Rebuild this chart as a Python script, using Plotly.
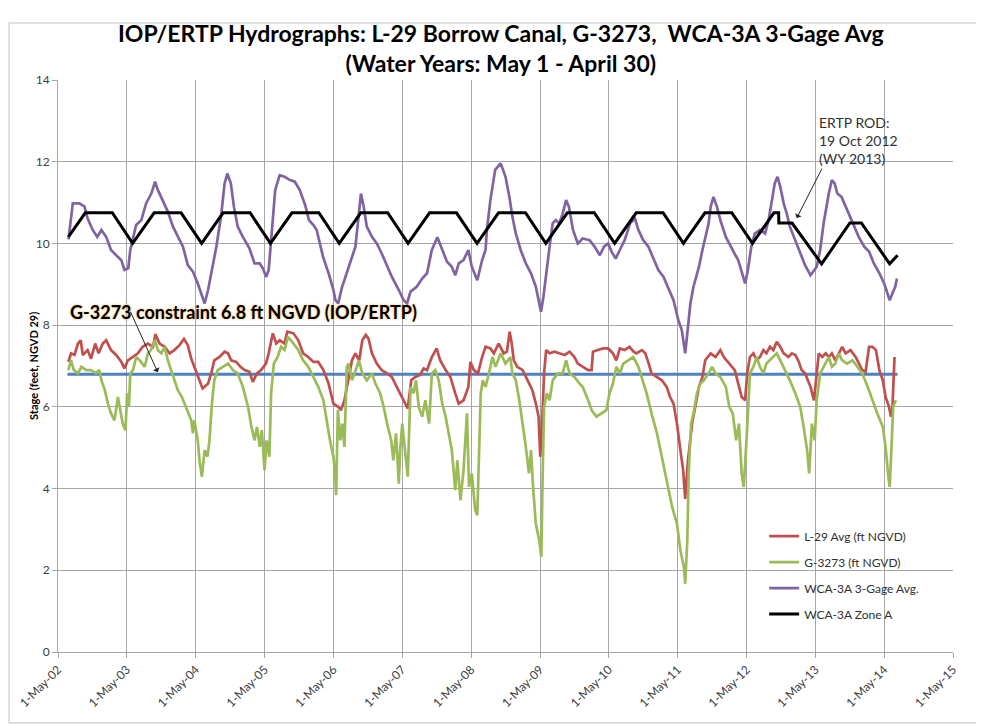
import numpy as np
import pandas as pd
import plotly.graph_objects as go

# ---------------- data ----------------
# x positions are stored as "years since 1-May-2002" (water-year offset)
BASE_DATE = "2002-05-01"

wca_t = [0.152, 0.215, 0.31, 0.385, 0.43, 0.505, 0.57, 0.63, 0.70, 0.77, 0.845, 0.92, 0.965, 1.02, 1.05,
         1.135, 1.21, 1.28, 1.355, 1.41, 1.45, 1.52, 1.595, 1.67, 1.74, 1.815, 1.885, 1.96, 2.03, 2.09,
         2.13, 2.18, 2.235, 2.30, 2.37, 2.42, 2.46, 2.51, 2.555, 2.61, 2.685, 2.78, 2.855, 2.93, 2.975,
         3.025, 3.06, 3.095, 3.155, 3.22, 3.29, 3.37, 3.44, 3.51, 3.59, 3.645, 3.71, 3.757, 3.78, 3.85,
         3.93, 4.0, 4.03, 4.07, 4.12, 4.19, 4.27, 4.32, 4.355, 4.40, 4.44, 4.485, 4.56, 4.63, 4.70,
         4.78, 4.85, 4.95, 5.02, 5.07, 5.12, 5.21, 5.29, 5.36, 5.43, 5.51, 5.58, 5.65, 5.72, 5.77,
         5.82, 5.89, 5.96, 6.01, 6.09, 6.16, 6.21, 6.23, 6.28, 6.35, 6.43, 6.50, 6.56, 6.60, 6.65,
         6.72, 6.795, 6.87, 6.94, 6.98, 7.015, 7.05, 7.09, 7.14, 7.185, 7.23, 7.28, 7.33, 7.38, 7.42,
         7.48, 7.55, 7.62, 7.72, 7.795, 7.87, 7.93, 7.99, 8.04, 8.10, 8.16, 8.23, 8.31, 8.38, 8.43,
         8.50, 8.575, 8.65, 8.72, 8.795, 8.87, 8.94, 9.01, 9.06, 9.11, 9.145, 9.185, 9.23, 9.31, 9.36,
         9.405, 9.45, 9.48, 9.52, 9.57, 9.62, 9.70, 9.77, 9.84, 9.88, 9.93, 9.98, 10.02, 10.07, 10.12,
         10.195, 10.27, 10.32, 10.37, 10.41, 10.45, 10.49, 10.54, 10.585, 10.63, 10.71, 10.78, 10.85,
         10.93, 10.98, 11.02, 11.07, 11.12, 11.195, 11.24, 11.28, 11.32, 11.38, 11.44, 11.49, 11.56,
         11.63, 11.71, 11.78, 11.85, 11.93, 12.0, 12.05, 12.08, 12.12, 12.16, 12.185]
wca_v = [10.10, 10.98, 10.98, 10.90, 10.61, 10.33, 10.16, 10.33, 10.16, 9.84, 9.71, 9.59, 9.35, 9.39, 9.84,
         10.45, 10.57, 10.98, 11.22, 11.51, 11.31, 11.06, 10.78, 10.41, 10.16, 9.92, 9.47, 9.31, 9.02, 8.69,
         8.53, 8.86, 9.35, 9.92, 10.69, 11.47, 11.71, 11.47, 10.90, 10.41, 10.16, 9.88, 9.51, 9.51, 9.39,
         9.18, 9.35, 10.08, 11.31, 11.67, 11.63, 11.55, 11.51, 11.31, 10.94, 10.57, 10.45, 10.33, 10.16, 9.67,
         9.27, 8.86, 8.61, 8.53, 8.90, 9.27, 9.67, 9.92, 10.49, 11.22, 10.90, 10.41, 10.16, 10.0, 9.76,
         9.43, 9.18, 8.86, 8.61, 8.53, 8.82, 8.94, 9.14, 9.27, 9.84, 10.15, 9.84, 9.55, 9.43, 9.22,
         9.51, 9.59, 9.84, 9.43, 9.10, 9.59, 9.84, 10.33, 11.06, 11.80, 11.96, 11.63, 11.10, 10.65, 10.24,
         9.84, 9.51, 9.27, 8.94, 8.61, 8.33, 8.69, 9.27, 9.92, 10.49, 10.57, 10.49, 10.73, 11.06, 10.90,
         10.33, 10.0, 10.12, 10.08, 9.92, 9.71, 9.92, 10.0, 9.80, 9.63, 9.84, 10.08, 10.49, 10.61, 10.33,
         10.08, 9.92, 9.63, 9.35, 9.18, 8.90, 8.61, 8.12, 7.88, 7.31, 7.96, 8.53, 8.94, 9.43, 9.84,
         10.16, 10.49, 10.90, 11.14, 10.90, 10.57, 10.16, 9.92, 9.71, 9.59, 9.27, 9.02, 9.35, 9.92, 10.24,
         10.33, 10.24, 10.57, 11.06, 11.47, 11.63, 11.39, 10.98, 10.73, 10.41, 10.08, 9.76, 9.47,
         9.22, 9.35, 9.43, 9.84, 10.49, 11.22, 11.55, 11.47, 11.22, 11.14, 10.90, 10.73, 10.41,
         10.16, 9.92, 9.80, 9.51, 9.27, 9.02, 8.78, 8.61, 8.78, 8.94, 9.14]

l29_t = [0.15, 0.19, 0.24, 0.29, 0.33, 0.36, 0.43, 0.48, 0.54, 0.59, 0.65, 0.70, 0.77, 0.845, 0.92,
         0.965, 1.015, 1.09, 1.16, 1.23, 1.305, 1.38, 1.415, 1.475, 1.55, 1.62, 1.69, 1.765, 1.83, 1.885,
         1.935, 1.98, 2.06, 2.10, 2.18, 2.225, 2.27, 2.345, 2.42, 2.47, 2.515, 2.59, 2.65, 2.71, 2.78,
         2.83, 2.89, 2.95, 3.02, 3.06, 3.12, 3.17, 3.22, 3.29, 3.33, 3.42, 3.49, 3.56, 3.635, 3.71,
         3.78, 3.855, 3.93, 4.0, 4.07, 4.11, 4.16, 4.22, 4.27, 4.32, 4.375, 4.42, 4.47, 4.51, 4.56,
         4.63, 4.70, 4.78, 4.85, 4.92, 4.97, 5.04, 5.08, 5.13, 5.19, 5.26, 5.31, 5.36, 5.43, 5.50,
         5.55, 5.63, 5.70, 5.77, 5.82, 5.89, 5.96, 5.99, 6.04, 6.10, 6.16, 6.21, 6.28, 6.33, 6.40,
         6.475, 6.52, 6.56, 6.59, 6.62, 6.67, 6.75, 6.82, 6.89, 6.94, 6.98, 7.005, 7.03, 7.06, 7.09,
         7.14, 7.21, 7.28, 7.36, 7.43, 7.50, 7.55, 7.62, 7.70, 7.75, 7.77, 7.84, 7.92, 7.99, 8.06,
         8.11, 8.16, 8.23, 8.30, 8.36, 8.40, 8.48, 8.53, 8.58, 8.62, 8.70, 8.77, 8.84, 8.89, 8.94,
         8.99, 9.04, 9.08, 9.11, 9.15, 9.21, 9.26, 9.31, 9.36, 9.40, 9.48, 9.55, 9.62, 9.67, 9.75,
         9.83, 9.88, 9.93, 9.98, 10.01, 10.05, 10.10, 10.15, 10.195, 10.245, 10.29, 10.34, 10.39, 10.44,
         10.49, 10.54, 10.61, 10.66, 10.71, 10.76, 10.80, 10.85, 10.93, 10.98, 11.02, 11.05, 11.10,
         11.15, 11.195, 11.24, 11.29, 11.34, 11.39, 11.44, 11.51, 11.585, 11.63, 11.68, 11.73, 11.78,
         11.83, 11.88, 11.93, 11.98, 12.02, 12.07, 12.10, 12.12, 12.15]
l29_v = [7.10, 7.31, 7.27, 7.55, 7.63, 7.27, 7.39, 7.18, 7.55, 7.31, 7.55, 7.63, 7.39, 7.27, 7.10,
         6.94, 7.14, 7.22, 7.31, 7.47, 7.55, 7.47, 7.78, 7.55, 7.47, 7.31, 7.39, 7.51, 7.66, 7.51,
         7.18, 6.98, 6.65, 6.45, 6.57, 6.82, 7.14, 7.22, 7.35, 7.31, 7.14, 7.10, 6.98, 6.90, 6.86,
         6.61, 6.82, 6.90, 7.06, 7.31, 7.80, 7.55, 7.63, 7.55, 7.84, 7.80, 7.63, 7.31, 7.22, 7.10,
         7.10, 6.90, 6.57, 6.08, 6.00, 5.92, 6.16, 6.65, 7.14, 7.31, 7.14, 7.63, 7.76, 7.67, 7.31,
         7.06, 6.90, 6.82, 6.73, 6.49, 6.33, 6.08, 5.96, 6.65, 6.73, 6.78, 6.94, 6.90, 7.22, 7.43,
         7.14, 6.90, 6.73, 6.33, 6.08, 6.16, 6.49, 7.10, 6.90, 6.82, 7.22, 7.47, 7.43, 7.31, 7.55,
         7.31, 7.35, 7.84, 7.55, 7.14, 6.98, 6.90, 6.65, 6.41, 6.08, 5.76, 4.78, 5.51, 6.82, 7.39,
         7.31, 7.35, 7.31, 7.27, 7.35, 7.22, 7.06, 6.98, 6.90, 6.90, 7.35, 7.39, 7.43, 7.43, 7.31,
         7.14, 7.43, 7.39, 7.47, 7.35, 7.31, 7.39, 7.31, 7.06, 6.82, 6.73, 6.65, 6.49, 6.24, 6.08,
         5.59, 4.94, 4.45, 3.75, 4.69, 5.59, 6.08, 6.49, 6.73, 7.14, 7.31, 7.22, 7.39, 7.22, 7.06,
         6.90, 6.57, 6.24, 6.16, 6.82, 7.22, 7.31, 7.14, 7.22, 7.39, 7.31, 7.47, 7.39, 7.59,
         7.47, 7.31, 7.22, 7.31, 7.27, 7.10, 6.90, 6.82, 6.49, 6.16, 6.90, 7.31, 7.22,
         7.31, 7.22, 7.31, 7.14, 7.31, 7.47, 7.31, 7.39, 7.22, 7.06, 6.90, 6.86, 7.47,
         7.47, 7.39, 6.90, 6.65, 6.24, 6.00, 5.76, 6.00, 7.22]

g3273_t = [0.15, 0.19, 0.23, 0.29, 0.34, 0.41, 0.48, 0.55, 0.60, 0.63, 0.68, 0.725, 0.77, 0.82, 0.87,
           0.91, 0.94, 0.98, 1.005, 1.03, 1.05, 1.09, 1.135, 1.185, 1.26, 1.305, 1.35, 1.41, 1.45, 1.50,
           1.55, 1.595, 1.645, 1.69, 1.74, 1.80, 1.86, 1.935, 1.96, 1.98, 2.03, 2.055, 2.09, 2.13, 2.17,
           2.20, 2.235, 2.27, 2.32, 2.395, 2.47, 2.54, 2.61, 2.685, 2.76, 2.81, 2.855, 2.89, 2.93, 2.96,
           3.0, 3.03, 3.07, 3.095, 3.135, 3.19, 3.24, 3.29, 3.34, 3.42, 3.49, 3.56, 3.635, 3.71, 3.78,
           3.855, 3.90, 3.95, 4.0, 4.025, 4.04, 4.065, 4.10, 4.13, 4.16, 4.195, 4.22, 4.27, 4.325, 4.37,
           4.42, 4.485, 4.56, 4.61, 4.68, 4.73, 4.78, 4.84, 4.87, 4.91, 4.95, 4.97, 5.0, 5.04, 5.08,
           5.12, 5.165, 5.20, 5.24, 5.29, 5.335, 5.39, 5.43, 5.48, 5.53, 5.58, 5.63, 5.675, 5.72, 5.77,
           5.80, 5.845, 5.89, 5.94, 5.97, 6.01, 6.06, 6.09, 6.11, 6.14, 6.17, 6.21, 6.26, 6.31, 6.355,
           6.43, 6.50, 6.57, 6.60, 6.65, 6.70, 6.75, 6.795, 6.84, 6.87, 6.90, 6.94, 6.99, 7.02, 7.04,
           7.06, 7.10, 7.14, 7.185, 7.26, 7.33, 7.38, 7.43, 7.50, 7.575, 7.62, 7.70, 7.75, 7.82, 7.89,
           7.965, 8.01, 8.06, 8.11, 8.16, 8.21, 8.28, 8.355, 8.43, 8.48, 8.55, 8.62, 8.70, 8.77, 8.84,
           8.92, 8.99, 9.04, 9.09, 9.11, 9.14, 9.16, 9.195, 9.23, 9.28, 9.33, 9.38, 9.45, 9.50, 9.55,
           9.62, 9.70, 9.75, 9.80, 9.85, 9.89, 9.93, 9.96, 10.0, 10.02, 10.05, 10.10, 10.15, 10.195,
           10.245, 10.29, 10.34, 10.39, 10.44, 10.49, 10.56, 10.63, 10.71, 10.78, 10.83, 10.88, 10.91,
           10.95, 10.99, 11.02, 11.07, 11.12, 11.195, 11.24, 11.29, 11.34, 11.39, 11.46, 11.54, 11.61,
           11.68, 11.76, 11.83, 11.90, 11.98, 12.02, 12.06, 12.08, 12.11, 12.13, 12.17]
g3273_v = [6.90, 7.14, 6.90, 6.82, 6.98, 6.90, 6.90, 6.82, 6.90, 6.65, 6.41, 6.08, 5.84, 5.67, 6.24,
           5.84, 5.59, 5.43, 6.33, 6.00, 6.82, 6.90, 7.22, 7.14, 6.98, 7.31, 7.39, 7.63, 7.39, 7.31,
           7.47, 7.14, 6.90, 6.65, 6.41, 6.24, 6.00, 5.67, 5.35, 5.67, 5.18, 4.69, 4.29, 4.94, 4.78,
           5.18, 6.08, 6.65, 6.90, 6.98, 7.06, 6.90, 6.82, 6.49, 6.00, 5.51, 5.18, 5.51, 5.02, 5.43,
           4.45, 5.18, 4.78, 6.33, 7.06, 7.22, 7.47, 7.39, 7.71, 7.55, 7.39, 7.14, 6.98, 6.73, 6.49,
           6.16, 5.67, 5.18, 4.78, 4.37, 3.84, 5.92, 5.18, 5.59, 5.02, 6.98, 7.06, 6.65, 6.90, 7.14,
           6.82, 6.65, 6.82, 6.57, 6.33, 6.00, 5.59, 5.18, 4.69, 5.35, 4.12, 4.94, 5.59, 4.86, 4.29,
           6.49, 6.33, 6.65, 6.00, 5.76, 6.16, 5.59, 6.82, 6.90, 6.65, 6.08, 5.76, 5.35, 4.94, 3.96,
           4.69, 3.71, 4.45, 5.84, 4.04, 4.37, 3.47, 3.35, 4.53, 6.33, 6.65, 6.49, 6.82, 7.22, 6.98,
           7.31, 7.06, 7.22, 6.82, 6.65, 6.16, 5.59, 5.02, 4.37, 4.94, 4.04, 3.14, 2.73, 2.33, 4.37,
           6.00, 6.33, 6.16, 6.65, 6.82, 6.82, 7.14, 6.82, 6.73, 6.57, 6.49, 6.16, 5.92, 5.76, 5.84,
           5.92, 6.33, 6.57, 6.98, 6.82, 7.06, 7.14, 7.22, 6.98, 6.73, 6.33, 5.84, 5.35, 4.78, 4.21,
           3.55, 3.14, 2.49, 2.08, 1.67, 2.73, 4.37, 5.59, 5.84, 6.33, 6.57, 6.65, 6.82, 6.98, 6.82,
           6.73, 6.49, 6.00, 5.84, 5.18, 5.59, 4.37, 4.04, 5.18, 6.00, 6.82, 6.98, 7.22, 6.98,
           6.82, 7.06, 7.14, 7.22, 7.31, 7.14, 6.90, 6.65, 6.33, 6.00, 5.51, 4.94, 4.37,
           5.59, 5.18, 6.16, 6.82, 6.98, 7.22, 6.98, 7.06, 7.31, 7.14, 7.06, 7.14, 6.98,
           6.82, 6.49, 6.16, 5.84, 5.51, 5.02, 4.29, 4.04, 5.18, 6.00, 6.16]

zone_a_dates = ["2002-06-25", "2002-09-23",
                "2003-02-13", "2003-06-01", "2003-09-23",
                "2004-02-13", "2004-06-01", "2004-09-23",
                "2005-02-13", "2005-06-01", "2005-09-23",
                "2006-02-13", "2006-06-01", "2006-09-23",
                "2007-02-13", "2007-06-01", "2007-09-23",
                "2008-02-13", "2008-06-01", "2008-09-23",
                "2009-02-13", "2009-06-01", "2009-09-23",
                "2010-02-13", "2010-06-01", "2010-09-23",
                "2011-02-13", "2011-06-01", "2011-09-23",
                "2012-02-13", "2012-06-01", "2012-09-23", "2012-10-18", "2012-10-19", "2012-12-28",
                "2013-06-03", "2013-10-31", "2013-12-31", "2014-05-30", "2014-07-11"]
zone_a_values = [10.16, 10.75,
                 10.75, 10.0, 10.75,
                 10.75, 10.0, 10.75,
                 10.75, 10.0, 10.75,
                 10.75, 10.0, 10.75,
                 10.75, 10.0, 10.75,
                 10.75, 10.0, 10.75,
                 10.75, 10.0, 10.75,
                 10.75, 10.0, 10.75,
                 10.75, 10.0, 10.75,
                 10.75, 10.0, 10.75, 10.75, 10.5, 10.5,
                 9.5, 10.5, 10.5, 9.5, 9.71]

constraint_dates = ["2002-06-20", "2014-07-11"]
constraint_values = [6.8, 6.8]

tick_dates = ["2002-05-01", "2003-05-01", "2004-05-01", "2005-05-01", "2006-05-01", "2007-05-01",
              "2008-05-01", "2009-05-01", "2010-05-01", "2011-05-01", "2012-05-01", "2013-05-01",
              "2014-05-01", "2015-05-01"]
tick_labels = ["1-May-02", "1-May-03", "1-May-04", "1-May-05", "1-May-06", "1-May-07", "1-May-08",
               "1-May-09", "1-May-10", "1-May-11", "1-May-12", "1-May-13", "1-May-14", "1-May-15"]


def to_dates(offsets):
    return pd.Timestamp(BASE_DATE) + pd.to_timedelta(np.asarray(offsets) * 365.25, unit="D")


FONT = "Lato"
GRID = "#A6A6A6"
TXT = "#404040"

fig = go.Figure()
fig.add_trace(go.Scatter(x=constraint_dates, y=constraint_values, mode="lines",
                         line=dict(color="#4F81BD", width=3), showlegend=False, hoverinfo="skip"))
fig.add_trace(go.Scatter(x=to_dates(l29_t), y=l29_v, mode="lines", name="L-29 Avg (ft NGVD)",
                         legendgroup="a", line=dict(color="#C0504D", width=2.7)))
fig.add_trace(go.Scatter(x=to_dates(g3273_t), y=g3273_v, mode="lines", name="G-3273 (ft NGVD)",
                         legendgroup="b", line=dict(color="#9BBB59", width=2.7)))
fig.add_trace(go.Scatter(x=to_dates(wca_t), y=wca_v, mode="lines", name="WCA-3A 3-Gage Avg.",
                         legendgroup="c", line=dict(color="#8064A2", width=2.7)))
fig.add_trace(go.Scatter(x=zone_a_dates, y=zone_a_values, mode="lines", name="WCA-3A Zone A",
                         legendgroup="d", line=dict(color="black", width=3)))

# the page body has an 8px default margin, so the figure is 8px smaller and margins shifted
fig.update_layout(
    width=976, height=717,
    margin=dict(l=50, r=31, t=72, b=73, autoexpand=False),
    paper_bgcolor="white", plot_bgcolor="white",
    font=dict(family=FONT, size=12, color=TXT),
    showlegend=True,
    legend=dict(x=0.789, y=0.228, xanchor="left", yanchor="top", bgcolor="rgba(0,0,0,0)",
                font=dict(family=FONT, size=12, color="#303030"), tracegroupgap=7,
                itemwidth=30, traceorder="grouped"),
    xaxis=dict(type="date", range=["2002-05-01", "2015-05-01"], tickvals=tick_dates,
               ticktext=tick_labels, tickangle=-45, showgrid=True, gridcolor=GRID, gridwidth=1,
               showline=True, linecolor=GRID, linewidth=1, ticks="outside", ticklen=5,
               tickcolor=GRID, tickfont=dict(family=FONT, size=12, color=TXT), zeroline=False),
    yaxis=dict(range=[0, 14], dtick=2, tick0=0, showgrid=True, gridcolor=GRID, gridwidth=1,
               showline=True, linecolor=GRID, linewidth=1, ticks="outside", ticklen=5,
               tickcolor=GRID, tickfont=dict(family=FONT, size=12, color=TXT), zeroline=False),
)

annotations = [
    dict(text="IOP/ERTP Hydrographs: L-29 Borrow Canal, G-3273,  WCA-3A 3-Gage Avg<br>(Water Years: May 1 - April 30)",
         xref="paper", yref="paper", x=0.495, y=1.056, xanchor="center", yanchor="middle",
         showarrow=False, font=dict(family=FONT, size=23, color="black", weight="bold")),
    dict(text="Stage (feet, NGVD 29)", xref="paper", yref="paper", x=-0.028, y=0.5,
         textangle=-90, showarrow=False, xanchor="center", yanchor="middle",
         font=dict(family=FONT, size=11, color="black", weight="bold")),
    dict(text="G-3273 constraint 6.8 ft NGVD (IOP/ERTP)", xref="paper", yref="paper",
         x=0.011, y=0.594, xanchor="left", yanchor="middle", showarrow=False,
         font=dict(family=FONT, size=18, color="black", weight="bold",
                   shadow="0px 0px 3px #F2B45A")),
    dict(text="", x="2003-10-12", y=6.85, xref="x", yref="y", showarrow=True,
         ax=-28, ay=-62, arrowhead=1, arrowsize=1.2, arrowwidth=1, arrowcolor="#222222"),
    dict(text="ERTP ROD:<br>19 Oct 2012<br>(WY 2013)", xref="paper", yref="paper",
         x=0.848, y=0.895, xanchor="left", yanchor="middle", align="left", showarrow=False,
         font=dict(family=FONT, size=14, color="#303030")),
    dict(text="", x="2013-01-22", y=10.62, xref="x", yref="y", showarrow=True,
         ax=26, ay=-51, arrowhead=1, arrowsize=1.2, arrowwidth=1, arrowcolor="#222222"),
]
fig.update_layout(annotations=annotations)

# chart-area border
fig.add_shape(type="rect", xref="paper", yref="paper", x0=-0.0547, x1=1.06, y0=-0.124, y1=1.0997,
              line=dict(color="#BFBFBF", width=1), fillcolor="rgba(0,0,0,0)", layer="below")

fig.write_html("out.html")
